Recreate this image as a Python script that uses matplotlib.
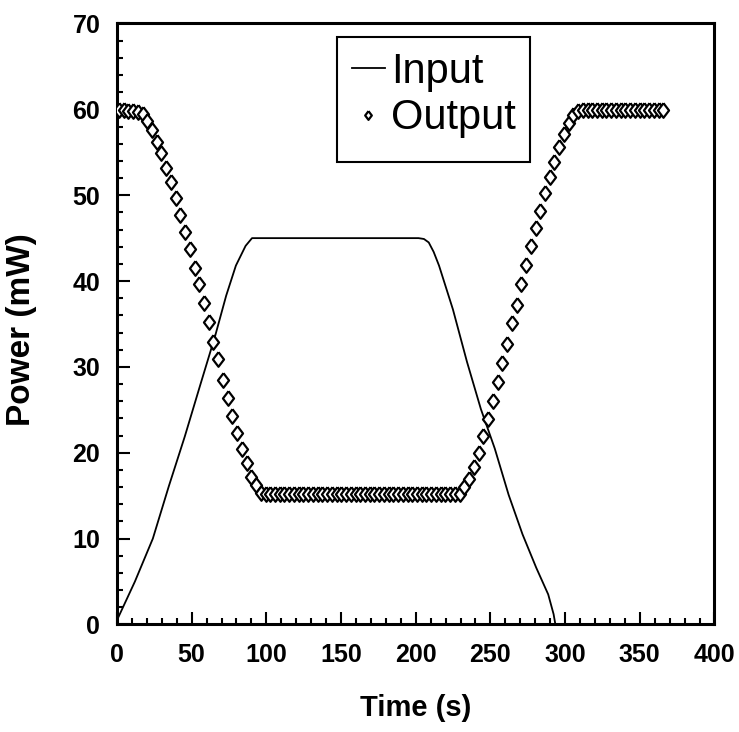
import matplotlib.pyplot as plt
from matplotlib.patches import Rectangle
from matplotlib.ticker import MultipleLocator

plt.rcParams['font.family'] = ['Liberation Sans', 'DejaVu Sans']

# input power ramp (solid line)
input_time = [0.0, 12.0, 24.0, 34.7, 45.4, 56.1, 65.7, 73.1, 79.6, 86.1, 90.4,
              201.9, 205.5, 208.7, 212.0, 215.6, 224.9, 234.3, 243.6, 252.9,
              262.2, 271.5, 280.7, 288.7, 292.3, 293.5]
input_power = [0.5, 5.0, 10.0, 16.1, 21.9, 28.1, 33.6, 38.3, 41.8, 44.1, 45.0,
               45.0, 44.9, 44.5, 43.4, 41.8, 36.7, 30.6, 25.1, 20.5,
               15.1, 10.5, 6.6, 3.5, 1.2, 0.0]

# transmitted power (diamonds)
output_time = [
    1.2, 4.4, 7.5, 10.7, 13.9, 17.1, 20.2, 23.4, 26.6, 29.7,
    32.9, 36.1, 39.2, 42.4, 45.6, 48.8, 51.9, 55.1, 58.3, 61.4,
    64.6, 67.8, 70.9, 74.1, 77.3, 80.5, 83.6, 86.8, 90.0, 93.1,
    96.3, 99.5, 102.6, 105.8, 109.0, 112.1, 115.3, 118.5, 121.7, 124.8,
    128.0, 131.2, 134.3, 137.5, 140.7, 143.9, 147.0, 150.2, 153.4, 156.5,
    159.7, 162.9, 166.0, 169.2, 172.4, 175.5, 178.7, 181.9, 185.1, 188.2,
    191.4, 194.6, 197.7, 200.9, 204.1, 207.2, 210.4, 213.6, 216.8, 219.9,
    223.1, 226.3, 229.4, 232.6, 235.8, 238.9, 242.1, 245.3, 248.5, 251.6,
    254.8, 258.0, 261.1, 264.3, 267.5, 270.6, 273.8, 277.0, 280.2, 283.3,
    286.5, 289.7, 292.8, 296.0, 299.2, 302.3, 305.5, 308.7, 311.9, 315.0,
    318.2, 321.4, 324.5, 327.7, 330.9, 334.0, 337.2, 340.4, 343.6, 346.7,
    349.9, 353.1, 356.2, 359.4, 362.6, 365.7]
output_power = [
    59.9, 59.9, 59.8, 59.8, 59.7, 59.5, 58.6, 57.6, 56.2, 54.9,
    53.2, 51.5, 49.7, 47.7, 45.7, 43.7, 41.5, 39.6, 37.4, 35.2,
    32.9, 30.9, 28.5, 26.4, 24.3, 22.3, 20.4, 18.8, 17.2, 16.2,
    15.3, 15.2, 15.2, 15.2, 15.2, 15.2, 15.2, 15.2, 15.2, 15.2,
    15.2, 15.2, 15.2, 15.2, 15.2, 15.2, 15.2, 15.2, 15.2, 15.2,
    15.2, 15.2, 15.2, 15.2, 15.2, 15.2, 15.2, 15.2, 15.2, 15.2,
    15.2, 15.2, 15.2, 15.2, 15.2, 15.2, 15.2, 15.2, 15.2, 15.2,
    15.2, 15.2, 15.2, 16.0, 17.0, 18.3, 20.0, 21.9, 23.9, 26.0,
    28.2, 30.4, 32.7, 35.1, 37.2, 39.6, 41.9, 44.1, 46.2, 48.2,
    50.3, 52.1, 53.9, 55.6, 57.1, 58.4, 59.3, 59.8, 59.9, 59.9,
    59.9, 59.9, 59.9, 59.9, 59.9, 59.9, 59.9, 59.9, 59.9, 59.9,
    59.9, 59.9, 59.9, 59.9, 59.9, 59.9]

fig = plt.figure(figsize=(7.39, 7.32), dpi=100)
ax = fig.add_axes([0.1583, 0.1469, 0.8085, 0.8210])

ax.plot(input_time, input_power, color='black', lw=1.3, label='Input', zorder=2)
diamond = [(0, 1), (0.76, 0), (0, -1), (-0.76, 0), (0, 1)]
ax.plot(output_time, output_power, ls='none', marker=diamond, ms=10.5,
        mfc='white', mec='black', mew=1.6, label='Output', zorder=3)

ax.set_xlim(0, 400)
ax.set_ylim(0, 70)
ax.xaxis.set_major_locator(MultipleLocator(50))
ax.xaxis.set_minor_locator(MultipleLocator(10))
ax.yaxis.set_major_locator(MultipleLocator(10))
ax.yaxis.set_minor_locator(MultipleLocator(2))
ax.tick_params(which='both', direction='in', top=False, right=False,
               width=1.5, labelsize=18)
ax.tick_params(which='major', length=9)
ax.tick_params(which='minor', length=4.5)
ax.tick_params(axis='x', pad=13)
ax.tick_params(axis='y', pad=12)
plt.setp(ax.get_xticklabels() + ax.get_yticklabels(), fontweight='bold')

for sp in ax.spines.values():
    sp.set_linewidth(2.2)

ax.set_xlabel('Time (s)', fontsize=21, fontweight='bold')
ax.xaxis.set_label_coords(0.5, -0.115)
ax.set_ylabel('Power (mW)', fontsize=24, fontweight='bold')
ax.yaxis.set_label_coords(-0.134, 0.49)

# legend box drawn separately so its padding can be set freely
ax.add_patch(Rectangle((0.368, 0.7696), 0.323, 0.2079, transform=ax.transAxes,
                       facecolor='white', edgecolor='black', lw=1.5, zorder=4))
leg = ax.legend(loc='upper left', bbox_to_anchor=(0.393, 0.9526), fontsize=30,
                frameon=False, borderpad=0, labelspacing=0.15,
                handlelength=0.8, handletextpad=0.15, borderaxespad=0,
                markerscale=0.6)
leg.set_zorder(5)

fig.savefig('out.png', dpi=100)
